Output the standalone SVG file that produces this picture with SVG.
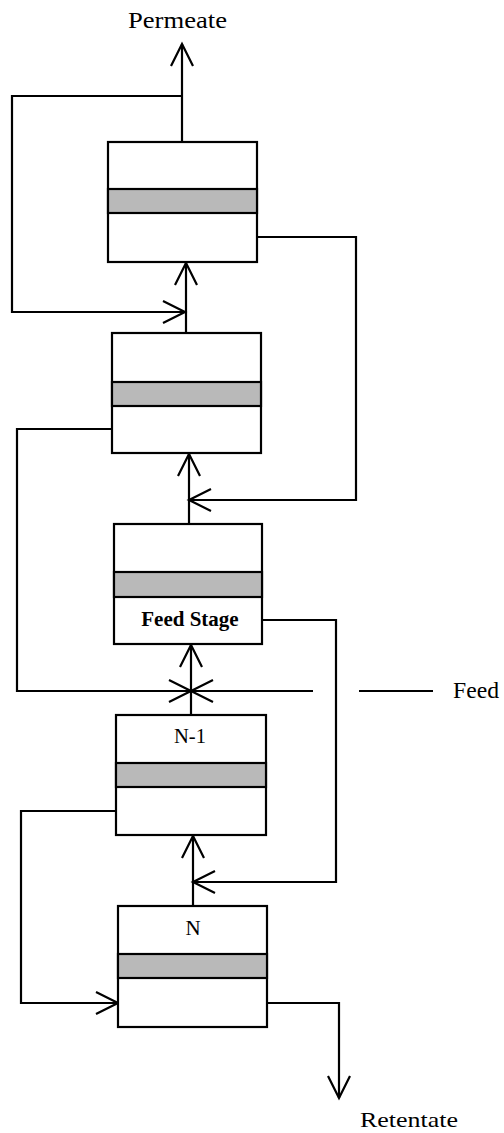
<svg xmlns="http://www.w3.org/2000/svg" width="504" height="1133" viewBox="0 0 504 1133">
<style>
.box{fill:#fff;stroke:#000;stroke-width:2.2}
.band{fill:#b9b9b9;stroke:#000;stroke-width:2.2}
.c{fill:none;stroke:#000;stroke-width:2.2}
.t{font-family:"Liberation Serif","Times New Roman",serif;fill:#000}
</style>
<defs>
<marker id="ah" viewBox="-24 -13 27 26" markerWidth="27" markerHeight="26" refX="0" refY="0" orient="auto" markerUnits="userSpaceOnUse" overflow="visible">
<path d="M-22,-11 L0,0 L-22,11" fill="none" stroke="#000" stroke-width="2.2"/>
</marker>
</defs>
<rect width="504" height="1133" fill="#fff"/>
<g id="connectors">
<path class="c" d="M182,142 V44" marker-end="url(#ah)"/>
<path class="c" d="M182,96 H12 V312 H185" marker-end="url(#ah)"/>
<path class="c" d="M186,333 V263" marker-end="url(#ah)"/>
<path class="c" d="M257,237 H356 V500 H189" marker-end="url(#ah)"/>
<path class="c" d="M189,524 V454" marker-end="url(#ah)"/>
<path class="c" d="M112,429 H17 V691 H191" marker-end="url(#ah)"/>
<path class="c" d="M313,691 H191" marker-end="url(#ah)"/>
<path class="c" d="M191,715 V645" marker-end="url(#ah)"/>
<path class="c" d="M262,620 H336 V882 H193" marker-end="url(#ah)"/>
<path class="c" d="M193,906 V836" marker-end="url(#ah)"/>
<path class="c" d="M116,811 H21 V1003 H118" marker-end="url(#ah)"/>
<path class="c" d="M267,1003 H339 V1098" marker-end="url(#ah)"/>
</g>
<g id="stage1">
<rect class="box" x="108" y="142" width="149" height="120"/>
<rect class="band" x="108" y="189" width="149" height="24"/>
</g>
<g id="stage2">
<rect class="box" x="112" y="333" width="149" height="120"/>
<rect class="band" x="112" y="382" width="149" height="24"/>
</g>
<g id="feed-stage">
<rect class="box" x="114" y="524" width="148" height="120"/>
<rect class="band" x="114" y="572" width="148" height="25"/>
<text class="t" x="190" y="626" font-size="21" font-weight="bold" text-anchor="middle">Feed Stage</text>
</g>
<g id="stage-n-1">
<rect class="box" x="116" y="715" width="150" height="120"/>
<rect class="band" x="116" y="763" width="150" height="24"/>
<text class="t" x="190" y="743" font-size="21" text-anchor="middle" textLength="32" lengthAdjust="spacingAndGlyphs">N-1</text>
</g>
<g id="stage-n">
<rect class="box" x="118" y="906" width="149" height="121"/>
<rect class="band" x="118" y="954" width="149" height="24"/>
<text class="t" x="193" y="935" font-size="21" text-anchor="middle">N</text>
</g>
<g id="permeate">
<text class="t" x="128" y="28" font-size="23" textLength="99" lengthAdjust="spacingAndGlyphs">Permeate</text>
</g>
<g id="feed">
<path class="c" d="M359,691 H433"/>
<text class="t" x="453" y="698" font-size="23" textLength="46" lengthAdjust="spacingAndGlyphs">Feed</text>
</g>
<g id="retentate">
<text class="t" x="360" y="1127" font-size="22" textLength="98" lengthAdjust="spacingAndGlyphs">Retentate</text>
</g>
</svg>
